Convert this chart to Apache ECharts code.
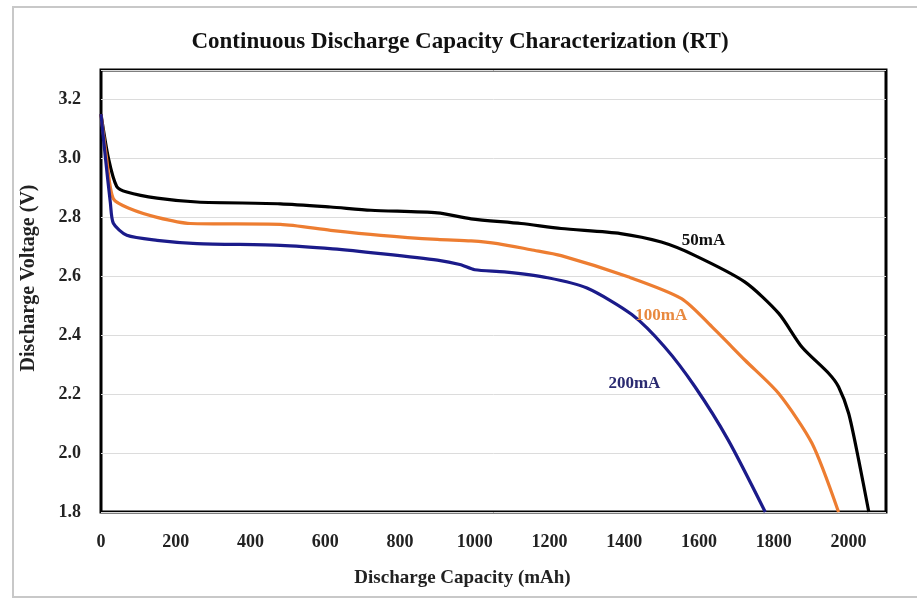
<!DOCTYPE html>
<html>
<head>
<meta charset="utf-8">
<script src="https://cdn.jsdelivr.net/npm/echarts@6/dist/echarts.min.js"></script>
<style>
html,body{margin:0;padding:0;background:#fff;}
#c{width:917px;height:600px;}
</style>
</head>
<body>
<div id="c"></div>
<script>
const seriesNames = ['50mA', '100mA', '200mA'];
const data50 = [[0,3.15],[20,3.0],[42,2.905],[69,2.886],[150,2.865],[257,2.852],[480,2.846],[614,2.835],[722,2.824],[900,2.815],[990,2.795],[1124,2.779],[1231,2.762],[1390,2.745],[1499,2.716],[1588,2.671],[1722,2.581],[1813,2.474],[1875,2.36],[1947,2.27],[1973,2.225],[2000,2.135],[2027,1.976],[2054,1.8]];
const data100 = [[0,3.15],[15,3.0],[33,2.863],[78,2.829],[150,2.80],[239,2.779],[480,2.776],[614,2.756],[748,2.739],[900,2.725],[990,2.72],[1061,2.711],[1150,2.69],[1231,2.67],[1410,2.598],[1553,2.524],[1634,2.429],[1723,2.315],[1813,2.202],[1902,2.033],[1973,1.80]];
const data200 = [[0,3.15],[12,3.0],[25,2.85],[33,2.78],[69,2.739],[150,2.722],[257,2.711],[480,2.705],[620,2.693],[748,2.677],[900,2.655],[960,2.64],[1000,2.622],[1079,2.615],[1195,2.595],[1300,2.56],[1420,2.47],[1508,2.36],[1589,2.225],[1678,2.044],[1777,1.80]];
const labelAnchors = [[1612,2.722],[1499,2.468],[1427,2.237]];
const titleText = 'Continuous Discharge Capacity Characterization (RT)';
const xName = 'Discharge Capacity (mAh)';
const yName = 'Discharge Voltage (V)';

const colors = ['#000000', '#ED7D31', '#1B1B8A'];
const labelColors = ['#111111', '#E8893F', '#2A2A70'];
const font = '"Liberation Serif", "Times New Roman", serif';
const allData = [data50, data100, data200];

const chart = echarts.init(document.getElementById('c'), null, {renderer: 'canvas'});
chart.setOption({
  animation: false,
  backgroundColor: '#fff',
  title: {
    text: titleText, left: 455, top: 26, textAlign: 'center',
    textStyle: {fontFamily: font, fontWeight: 'bold', fontSize: 23, color: '#111'}
  },
  graphic: [{
    type: 'rect', shape: {x: 13, y: 7, width: 920, height: 590},
    style: {fill: 'none', stroke: '#c8c8c8', lineWidth: 2}, silent: true, z: -10
  }],
  grid: {left: 101, right: 31, top: 70, bottom: 88, show: true, borderColor: '#000', borderWidth: 3, backgroundColor: 'transparent'},
  xAxis: {
    type: 'value', min: 0, max: 2100, interval: 200,
    name: xName, nameLocation: 'middle', nameGap: 57,
    nameTextStyle: {fontFamily: font, fontWeight: 'bold', fontSize: 19, color: '#222', padding: [0, 62, 0, 0]},
    axisLine: {show: false}, axisTick: {show: false}, splitLine: {show: false},
    axisLabel: {fontFamily: font, fontWeight: 'bold', fontSize: 18, color: '#222', margin: 21, showMaxLabel: false,
      formatter: v => String(v)}
  },
  yAxis: {
    type: 'value', min: 1.8, max: 3.3, interval: 0.2,
    name: yName, nameLocation: 'middle', nameGap: 62, nameRotate: 90,
    nameTextStyle: {fontFamily: font, fontWeight: 'bold', fontSize: 20, color: '#222', padding: [0, 0, 0, 26]},
    axisLine: {show: false}, axisTick: {show: false},
    splitLine: {show: true, lineStyle: {color: '#dcdcdc', width: 1}},
    axisLabel: {fontFamily: font, fontWeight: 'bold', fontSize: 18, color: '#222', margin: 20, showMaxLabel: false,
      formatter: v => v.toFixed(1)}
  },
  series: allData.map((d, i) => ({
    name: seriesNames[i], type: 'line', data: d, showSymbol: false, smooth: 0.25,
    lineStyle: {color: colors[i], width: 3.2}, itemStyle: {color: colors[i]},
    markPoint: {
      symbol: 'circle', symbolSize: 0,
      data: [{coord: labelAnchors[i]}],
      label: {show: true, position: 'inside', formatter: seriesNames[i], color: labelColors[i],
        fontFamily: font, fontWeight: 'bold', fontSize: 17}
    }
  }))
});
</script>
</body>
</html>
